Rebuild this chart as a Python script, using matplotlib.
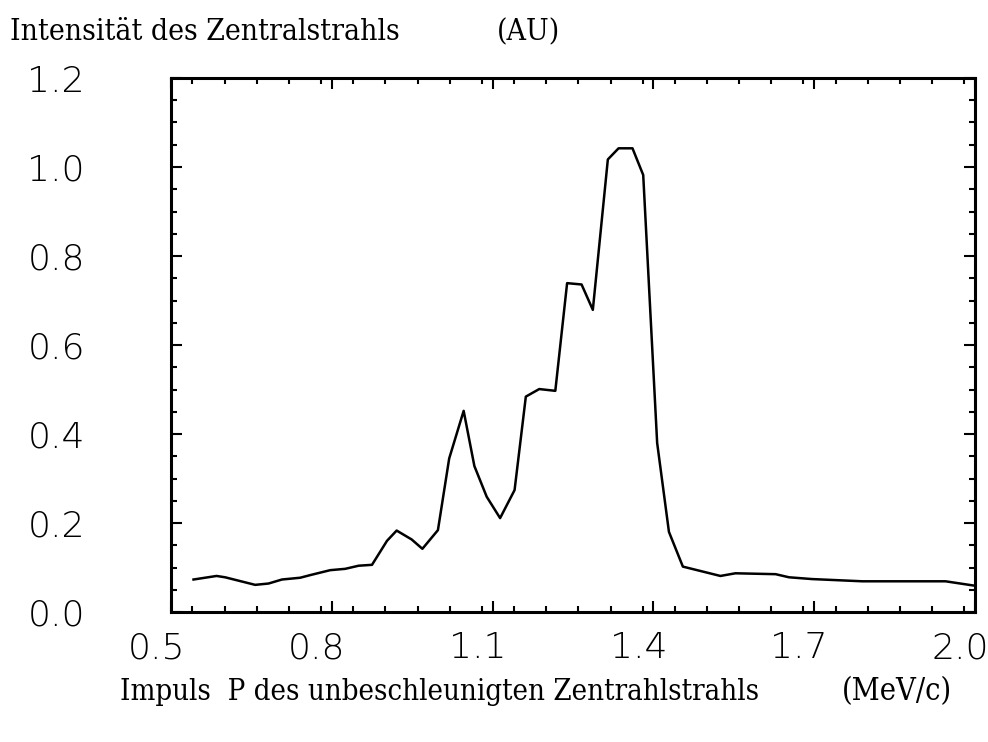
import numpy as np
import matplotlib
matplotlib.use("Agg")
import matplotlib.pyplot as plt
import matplotlib.transforms as mtransforms
from matplotlib import font_manager
from matplotlib.ticker import MultipleLocator, FixedLocator

# Impuls (MeV/c) und Intensitaet (AU)
impuls = [0.542, 0.585, 0.601, 0.657, 0.682, 0.707, 0.741, 0.760, 0.797, 0.825,
          0.850, 0.875, 0.903, 0.921, 0.949, 0.969, 0.998, 1.019, 1.046, 1.066,
          1.089, 1.114, 1.141, 1.162, 1.187, 1.217, 1.239, 1.266, 1.287, 1.315,
          1.335, 1.361, 1.381, 1.407, 1.429, 1.455, 1.525, 1.553, 1.628, 1.653,
          1.696, 1.790, 1.945, 2.000]
intens = [0.073, 0.081, 0.078, 0.061, 0.064, 0.073, 0.077, 0.083, 0.094, 0.097,
          0.104, 0.106, 0.160, 0.183, 0.163, 0.142, 0.184, 0.345, 0.452, 0.328,
          0.259, 0.211, 0.274, 0.484, 0.501, 0.497, 0.739, 0.736, 0.679, 1.017,
          1.042, 1.042, 0.982, 0.380, 0.180, 0.102, 0.081, 0.087, 0.085, 0.078,
          0.074, 0.069, 0.069, 0.059]

xticks = [0.5, 0.8, 1.1, 1.4, 1.7, 2.0]
yticks = [0.0, 0.2, 0.4, 0.6, 0.8, 1.0, 1.2]

# schmale Schrift fuer die Achsentitel, falls vorhanden
fonts = font_manager.fontManager.ttflist
if any(f.name == 'DejaVu Serif' and f.stretch == 'condensed' for f in fonts):
    label_font = dict(family='DejaVu Serif', stretch='condensed')
elif any(f.name == 'Liberation Sans Narrow' for f in fonts):
    label_font = dict(family='Liberation Sans Narrow')
else:
    label_font = dict(family='DejaVu Serif')

fig = plt.figure(figsize=(9.88, 7.42), dpi=100)
ax = fig.add_axes([171/988, 1-612/742, 804/988, 534/742])

ax.plot(impuls, intens, color='black', lw=1.8)

ax.set_xlim(0.5, 2.0)
ax.set_ylim(0.0, 1.2)
ax.xaxis.set_major_locator(FixedLocator(xticks))
ax.xaxis.set_minor_locator(MultipleLocator(0.06))
ax.yaxis.set_major_locator(FixedLocator(yticks))
ax.yaxis.set_minor_locator(MultipleLocator(0.05))
ax.set_xticklabels(['%.1f' % t for t in xticks])
ax.set_yticklabels(['%.1f' % t for t in yticks])

ax.tick_params(which='both', direction='in', top=True, right=True, width=1.5, color='black')
ax.tick_params(which='major', length=8)
ax.tick_params(which='minor', length=4)
ax.tick_params(axis='x', which='major', pad=14, labelsize=26)
ax.tick_params(axis='y', which='major', pad=62, labelsize=26)

# x-Beschriftung etwas nach links versetzt
shift = mtransforms.ScaledTranslation(-15/100, 0, fig.dpi_scale_trans)
for lab in ax.get_xticklabels():
    lab.set_transform(lab.get_transform() + shift)
for lab in ax.get_xticklabels() + ax.get_yticklabels():
    lab.set_fontweight('light')
for s in ax.spines.values():
    s.set_linewidth(2.2)

fig.text(10/988, 1-40/742, 'Intensität des Zentralstrahls', fontsize=21.5, va='baseline', **label_font)
fig.text(497/988, 1-40/742, '(AU)', fontsize=21.5, va='baseline', **label_font)
fig.text(120/988, 1-700/742, 'Impuls  P des unbeschleunigten Zentrahlstrahls', fontsize=21, va='baseline', **label_font)
fig.text(842/988, 1-700/742, '(MeV/c)', fontsize=22, va='baseline', **label_font)

fig.savefig('out.png', dpi=100)
